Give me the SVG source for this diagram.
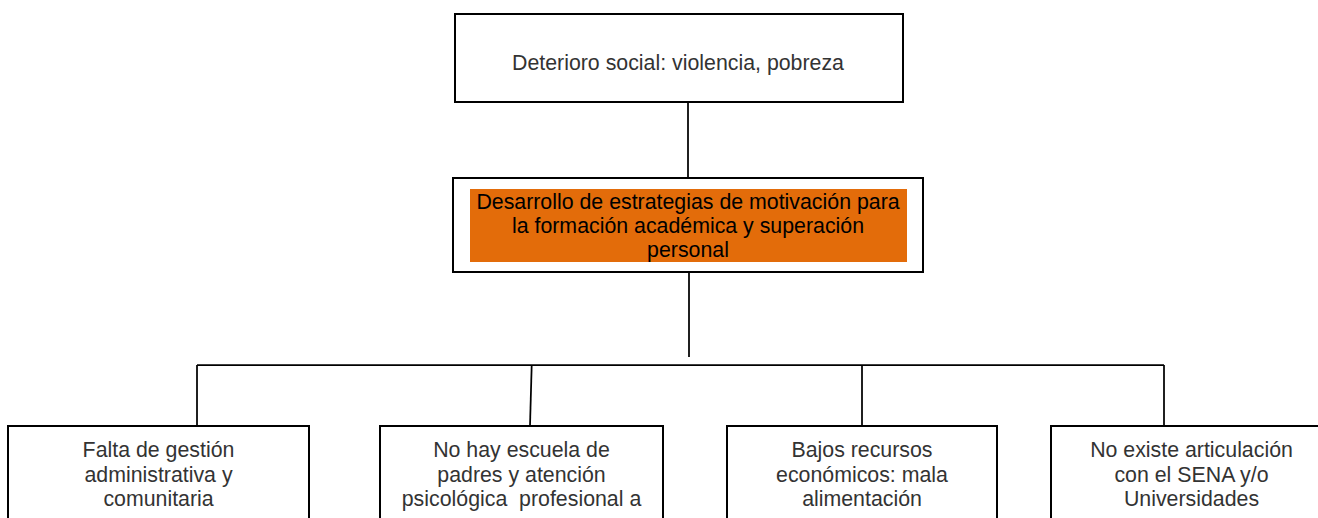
<svg xmlns="http://www.w3.org/2000/svg" width="1318" height="518" viewBox="0 0 1318 518">
<style>
.box{fill:#fff;stroke:#000;stroke-width:2}
.ln{stroke:#000;stroke-width:1.75;fill:none}
.t{font-family:"Liberation Sans",Arial,sans-serif;font-size:21.33px;fill:#333;text-anchor:middle}
.tb{fill:#000}
</style>
<rect width="1318" height="518" fill="#fff"/>
<g id="connectors">
<line class="ln" x1="688" y1="102" x2="688" y2="178"/>
<line class="ln" x1="689" y1="273" x2="689" y2="357"/>
<line class="ln" x1="197" y1="365" x2="1164" y2="365"/>
<line class="ln" x1="197" y1="365" x2="197" y2="426"/>
<line class="ln" x1="531.7" y1="365" x2="530" y2="426"/>
<line class="ln" x1="862" y1="365" x2="862" y2="426"/>
<line class="ln" x1="1164" y1="365" x2="1164" y2="426"/>
</g>
<g id="top">
<rect class="box" x="455" y="14" width="448" height="88"/>
<text class="t" x="678" y="70">Deterioro social: violencia, pobreza</text>
</g>
<g id="middle">
<rect class="box" x="453" y="178" width="470" height="94"/>
<rect x="470" y="189" width="437" height="73" fill="#E36C0A"/>
<text class="t tb" x="688" y="209">Desarrollo de estrategias de motivación para</text>
<text class="t tb" x="688" y="233">la formación académica y superación</text>
<text class="t tb" x="688" y="257">personal</text>
</g>
<g id="b1">
<rect class="box" x="8" y="426" width="301" height="120"/>
<text class="t" x="158.5" y="457">Falta de gestión</text>
<text class="t" x="158.5" y="482">administrativa y</text>
<text class="t" x="158.5" y="506">comunitaria</text>
</g>
<g id="b2">
<rect class="box" x="380" y="426" width="283" height="120"/>
<text class="t" x="521.5" y="457">No hay escuela de</text>
<text class="t" x="521.5" y="482">padres y atención</text>
<text class="t" x="521.5" y="506" xml:space="preserve">psicológica  profesional a</text>
</g>
<g id="b3">
<rect class="box" x="727" y="426" width="270" height="120"/>
<text class="t" x="862" y="457">Bajos recursos</text>
<text class="t" x="862" y="482">económicos: mala</text>
<text class="t" x="862" y="506">alimentación</text>
</g>
<g id="b4">
<rect class="box" x="1051" y="426" width="281" height="120"/>
<text class="t" x="1191.5" y="457">No existe articulación</text>
<text class="t" x="1191.5" y="482">con el SENA y/o</text>
<text class="t" x="1191.5" y="506">Universidades</text>
</g>
</svg>
